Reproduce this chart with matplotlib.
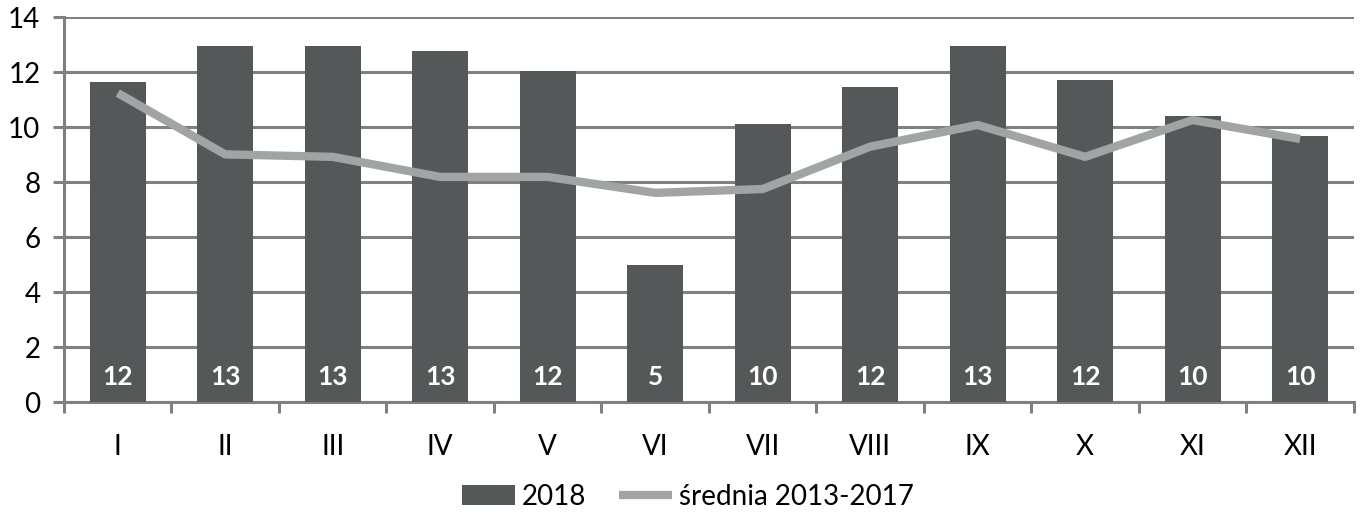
import numpy as np
import matplotlib
matplotlib.use("Agg")
import matplotlib.pyplot as plt

# 月（ローマ数字）
months = ["I", "II", "III", "IV", "V", "VI", "VII", "VIII", "IX", "X", "XI", "XII"]
# 2018 の値（棒）
values_2018 = [11.66, 12.96, 12.96, 12.79, 12.06, 4.99, 10.11, 11.48, 12.96, 11.74, 10.43, 9.69]
# 棒の中に書くラベル
labels_2018 = ["12", "13", "13", "13", "12", "5", "10", "12", "13", "12", "10", "10"]
# średnia 2013-2017（折れ線）
avg_2013_2017 = [11.25, 9.02, 8.93, 8.2, 8.2, 7.62, 7.76, 9.3, 10.09, 8.93, 10.27, 9.58]

bar_color = "#555859"
line_color = "#a0a4a4"
grid_color = "#808080"

plt.rcParams["font.family"] = ["Lato", "DejaVu Sans"]

fig = plt.figure(figsize=(13.62, 5.22), dpi=100)
ax = fig.add_axes([0.047, 0.2293, 0.947, 0.7372])

x = np.arange(len(months))
bars = ax.bar(x, values_2018, width=0.52, color=bar_color, zorder=3, label="2018")
line, = ax.plot(x, avg_2013_2017, color=line_color, linewidth=6, solid_capstyle="butt",
                zorder=4, label="średnia 2013-2017")

for xi, lab in zip(x, labels_2018):
    ax.text(xi, 0.93, lab, ha="center", va="center", color="white",
            fontsize=19, fontweight="bold", zorder=5)

ax.set_xlim(-0.5, len(months) - 0.5)
ax.set_ylim(0, 14)
ax.set_yticks(range(0, 15, 2))
ax.yaxis.grid(True, color=grid_color, linewidth=2.2, zorder=1)
ax.set_axisbelow(True)

ax.set_xticks(x)
ax.set_xticklabels(months)
ax.set_xticks(np.arange(-0.5, len(months)), minor=True)
ax.tick_params(axis="x", which="major", length=0, pad=23, labelsize=20, colors="black")
ax.tick_params(axis="x", which="minor", length=8, width=2.2, color=grid_color)
ax.tick_params(axis="y", length=8, width=2.2, color=grid_color, pad=9, labelsize=20)

for side in ["top", "right"]:
    ax.spines[side].set_visible(False)
for side in ["left", "bottom"]:
    ax.spines[side].set_color(grid_color)
    ax.spines[side].set_linewidth(2.2)

fig.legend([bars, line], ["2018", "średnia 2013-2017"],
           loc="center", bbox_to_anchor=(0.505, 1 - 497 / 522), ncol=2,
           frameon=False, fontsize=20, handlelength=1.9, handleheight=0.75,
           handletextpad=0.25, columnspacing=1.2)

fig.savefig("out.png", dpi=100)
